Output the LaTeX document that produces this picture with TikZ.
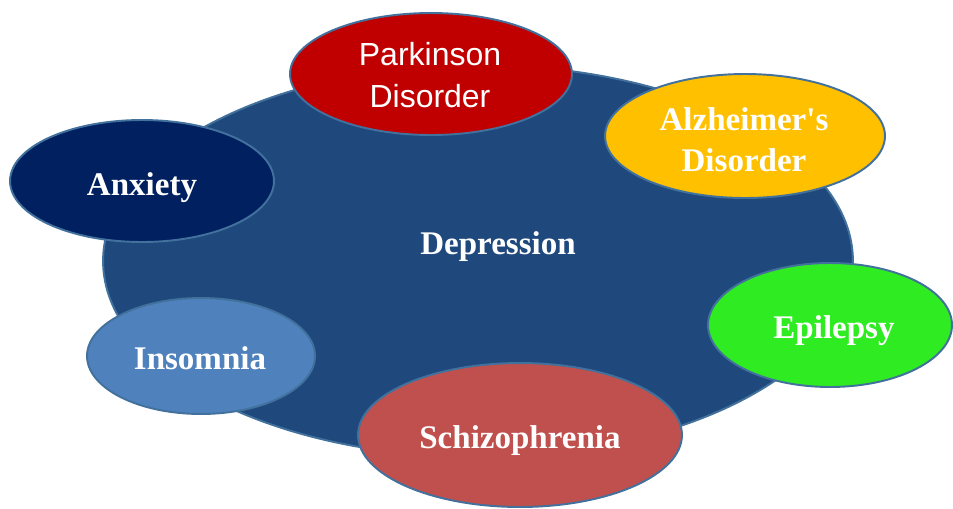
\documentclass[tikz,border=0pt]{standalone}
\usepackage{fontspec}
\setmainfont{Liberation Serif}
\newfontfamily\arialfont{Liberation Sans}
\usetikzlibrary{shapes.geometric}
\definecolor{deprblue}{HTML}{1F497D}
\definecolor{rimblue}{HTML}{41719C}
\definecolor{parkred}{HTML}{C00000}
\definecolor{alzyellow}{HTML}{FFC000}
\definecolor{anxnavy}{HTML}{002060}
\definecolor{insblue}{HTML}{4F81BD}
\definecolor{schred}{HTML}{C0504D}
\definecolor{epigreen}{HTML}{2FEB22}
\tikzset{
  blob/.style={ellipse, draw=rimblue, line width=1.1pt, inner sep=0pt},
  word/.style={text=white, inner sep=0pt, align=center,
    font=\bfseries\fontsize{18.8}{23.3}\selectfont},
  sansword/.style={text=white, inner sep=0pt, align=center,
    font=\arialfont\fontsize{18.2}{23.8}\selectfont}
}
\begin{document}
\begin{tikzpicture}[x=0.02cm,y=-0.02cm]
      \useasboundingbox (0,0) rectangle (953,508);
      \draw
        (478,261) node[blob, fill=deprblue, minimum width=15cm, minimum height=7.84cm] (depr){}
        (431,74) node[blob, fill=parkred, minimum width=5.64cm, minimum height=2.44cm] (park){}
        (745,136) node[blob, fill=alzyellow, minimum width=5.6cm, minimum height=2.48cm] (alz){}
        (142,181) node[blob, fill=anxnavy, minimum width=5.28cm, minimum height=2.44cm] (anx){}
        (201,356) node[blob, fill=insblue, minimum width=4.56cm, minimum height=2.32cm] (ins){}
        (520,435) node[blob, fill=schred, minimum width=6.48cm, minimum height=2.88cm] (sch){}
        (830,325) node[blob, fill=epigreen, minimum width=4.88cm, minimum height=2.48cm] (epi){};
      % base of a two-line node is its last line
      \begin{scope}[anchor=base]
        \node[word] (deprtext) at (498,254) {Depression};
        \node[sansword] (parktext) at (430,107) {Parkinson\\Disorder};
        \node[word] (alztext) at (744,171) {Alzheimer\textquotesingle s\\Disorder};
        \node[word] (anxtext) at (142,195) {Anxiety};
        \node[word] (instext) at (200,369) {Insomnia};
        \node[word] (schtext) at (520,448) {Schizophrenia};
        \node[word] (epitext) at (834,338) {Epilepsy};
      \end{scope}
    \end{tikzpicture}
\end{document}
